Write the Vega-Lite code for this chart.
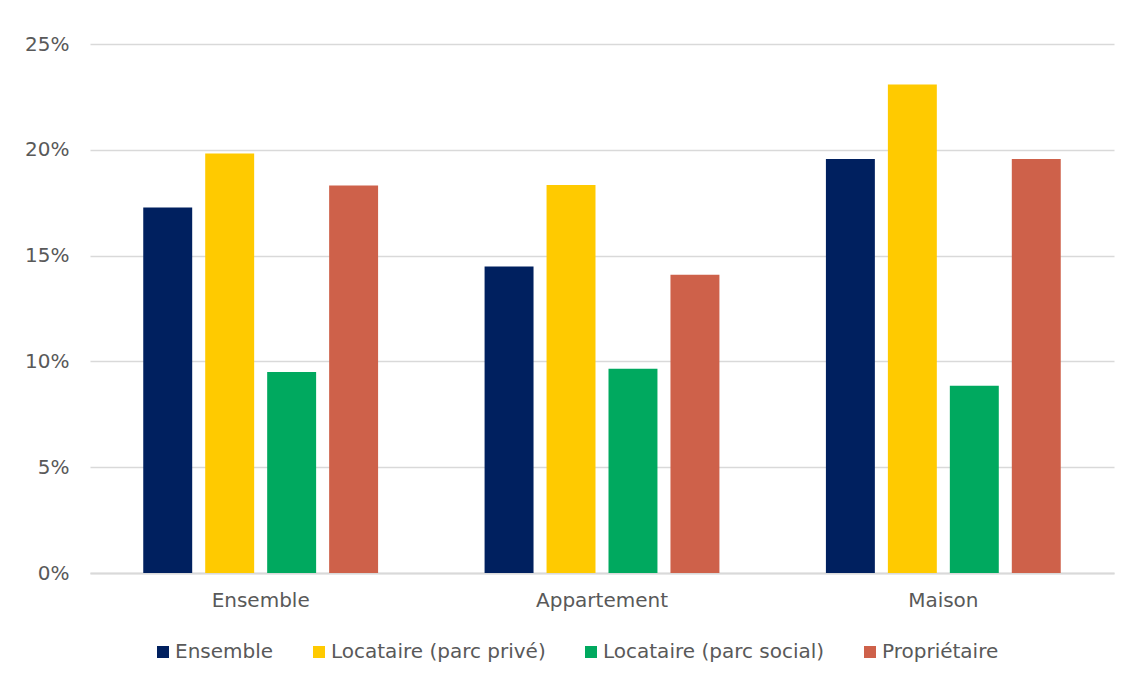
{
  "$schema": "https://vega.github.io/schema/vega-lite/v6.json",
  "width": 1024,
  "height": 529,
  "autosize": {"type": "none"},
  "padding": {"left": 90, "top": 44, "right": 16, "bottom": 107},
  "background": "white",
  "config": {
    "view": {"stroke": null},
    "font": "DejaVu Sans",
    "axis": {"labelFont": "DejaVu Sans", "labelColor": "#595959", "labelFontSize": 20, "grid": false, "ticks": false, "domain": false},
    "legend": {"labelFont": "DejaVu Sans", "labelColor": "#595959", "labelFontSize": 20, "labelLimit": 0}
  },
  "data": {
    "values": [
      {"type": "Ensemble", "statut": "Ensemble", "v": 0.1727},
      {"type": "Ensemble", "statut": "Locataire (parc privé)", "v": 0.1983},
      {"type": "Ensemble", "statut": "Locataire (parc social)", "v": 0.095},
      {"type": "Ensemble", "statut": "Propriétaire", "v": 0.1831},
      {"type": "Appartement", "statut": "Ensemble", "v": 0.1448},
      {"type": "Appartement", "statut": "Locataire (parc privé)", "v": 0.1834},
      {"type": "Appartement", "statut": "Locataire (parc social)", "v": 0.0965},
      {"type": "Appartement", "statut": "Propriétaire", "v": 0.1409},
      {"type": "Maison", "statut": "Ensemble", "v": 0.1957},
      {"type": "Maison", "statut": "Locataire (parc privé)", "v": 0.2309},
      {"type": "Maison", "statut": "Locataire (parc social)", "v": 0.0885},
      {"type": "Maison", "statut": "Propriétaire", "v": 0.1957}
    ]
  },
  "mark": {"type": "bar"},
  "encoding": {
    "x": {
      "field": "type", "type": "nominal", "sort": ["Ensemble", "Appartement", "Maison"],
      "scale": {"paddingInner": 0.312, "paddingOuter": 0.156},
      "axis": {"title": null, "labelAngle": 0, "labelPadding": 17, "domain": true, "domainColor": "#D9D9D9", "domainWidth": 2}
    },
    "xOffset": {
      "field": "statut", "type": "nominal",
      "sort": ["Ensemble", "Locataire (parc privé)", "Locataire (parc social)", "Propriétaire"],
      "scale": {"paddingInner": 0.21, "paddingOuter": 0}
    },
    "y": {
      "field": "v", "type": "quantitative",
      "scale": {"domain": [0, 0.25], "nice": false},
      "axis": {"title": null, "format": ".0%", "values": [0, 0.05, 0.1, 0.15, 0.2, 0.25], "grid": true, "gridColor": "#D9D9D9", "gridWidth": 1.5, "labelPadding": 21}
    },
    "color": {
      "field": "statut", "type": "nominal",
      "sort": ["Ensemble", "Locataire (parc privé)", "Locataire (parc social)", "Propriétaire"],
      "scale": {"range": ["#00205F", "#FFCA00", "#00A95F", "#CE614A"]},
      "legend": {
        "title": null, "orient": "none", "direction": "horizontal",
        "legendX": 63, "legendY": 598,
        "symbolType": "square", "symbolSize": 144, "symbolStrokeWidth": 0,
        "labelOffset": 2, "columnPadding": 35
      }
    }
  }
}
